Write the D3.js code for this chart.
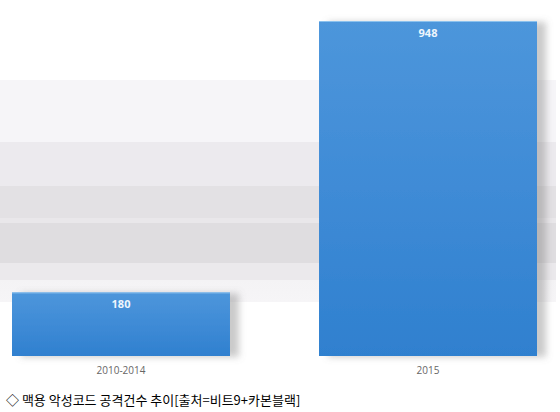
<!DOCTYPE html>
<html><head><meta charset="utf-8">
<script src="https://cdn.jsdelivr.net/npm/d3@7"></script>
<style>
html,body{margin:0;padding:0;background:#fff;}
svg{display:block;}
</style></head>
<body>
<svg id="chart" width="560" height="412"></svg>
<script>
const categories = ["2010-2014", "2015"];
const values = [180, 948];
const caption = "◇ 맥용 악성코드 공격건수 추이[출처=비트9+카본블랙]";

const svg = d3.select("#chart");
const defs = svg.append("defs");

// background band gradient
const bg = defs.append("linearGradient").attr("id","bgGrad").attr("x1",0).attr("y1",0).attr("x2",0).attr("y2",1);
[[0,"#f6f5f8"],[0.279,"#f6f5f8"],[0.279,"#eceaee"],[0.477,"#eceaee"],[0.477,"#e3e1e4"],
 [0.622,"#e3e1e4"],[0.622,"#e9e7ea"],[0.644,"#e9e7ea"],[0.644,"#dfdde0"],[0.824,"#dfdde0"],
 [0.824,"#ebe9ec"],[0.901,"#ebe9ec"],[0.901,"#f4f3f5"],[1,"#f6f5f7"]]
 .forEach(([o,c])=>bg.append("stop").attr("offset",o).attr("stop-color",c));

const bar = defs.append("linearGradient").attr("id","barGrad").attr("x1",0).attr("y1",0).attr("x2",0).attr("y2",1);
[[0,"#4d96db"],[0.5,"#3f8bd6"],[1,"#2f80cf"]].forEach(([o,c])=>bar.append("stop").attr("offset",o).attr("stop-color",c));

const f = defs.append("filter").attr("id","shadow").attr("x","-10%").attr("y","-10%").attr("width","130%").attr("height","130%");
f.append("feDropShadow").attr("dx",9).attr("dy",1).attr("stdDeviation",3.5).attr("flood-color","#7a7a7a").attr("flood-opacity",0.4);

svg.append("rect").attr("x",0).attr("y",80).attr("width",556).attr("height",222).attr("fill","url(#bgGrad)");

const x = d3.scaleBand().domain(categories).range([12, 537]).paddingInner(0.29).paddingOuter(0);
const y = d3.scaleLinear().domain([0, 948]).range([356, 21]);

const g = svg.append("g");
g.selectAll("rect.bar").data(values).join("rect")
  .attr("class","bar")
  .attr("x",(d,i)=>x(categories[i]))
  .attr("y",d=>y(d))
  .attr("width",x.bandwidth())
  .attr("height",d=>y(0)-y(d))
  .attr("fill","url(#barGrad)")
  .attr("filter","url(#shadow)");

g.selectAll("line.hl").data(values).join("line")
  .attr("class","hl")
  .attr("x1",(d,i)=>x(categories[i]))
  .attr("x2",(d,i)=>x(categories[i])+x.bandwidth())
  .attr("y1",d=>y(d)+0.5).attr("y2",d=>y(d)+0.5)
  .attr("stroke","#8cc2ee").attr("stroke-width",1);

g.selectAll("text.val").data(values).join("text")
  .attr("class","val")
  .attr("x",(d,i)=>x(categories[i])+x.bandwidth()/2)
  .attr("y",d=>y(d)+16)
  .attr("text-anchor","middle")
  .attr("font-family","'Open Sans', 'Noto Sans', sans-serif")
  .attr("font-weight","bold")
  .attr("font-size",11)
  .attr("fill","#eef6fd")
  .text(d=>d);

const axis = d3.axisBottom(x).tickSize(0).tickPadding(0);
const ax = svg.append("g").attr("transform","translate(0,356)").call(axis);
ax.select(".domain").remove();
ax.selectAll("text")
  .attr("dy",0).attr("y",18)
  .attr("font-family","'Open Sans', 'Noto Sans', sans-serif")
  .attr("font-size",10)
  .attr("fill","#666");

svg.append("text")
  .attr("x",6).attr("y",405)
  .attr("font-family","'Noto Sans CJK KR', sans-serif")
  .attr("font-size",13)
  .attr("fill","#000")
  .text(caption);
</script>
</body></html>
